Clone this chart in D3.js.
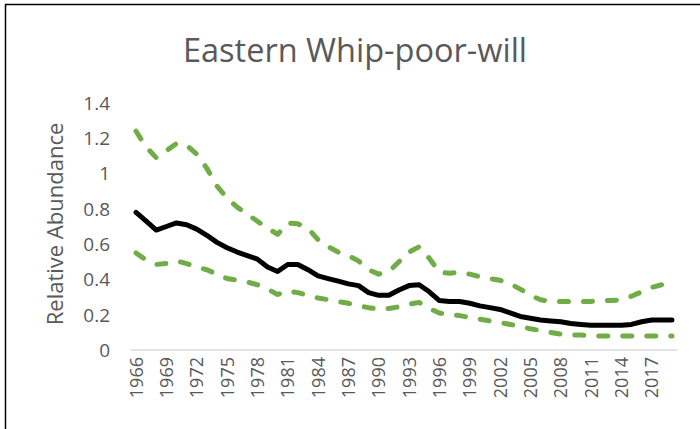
<!DOCTYPE html>
<html>
<head>
<meta charset="utf-8">
<script src="https://cdn.jsdelivr.net/npm/d3@7"></script>
<style>
  html, body { margin: 0; padding: 0; background: #fff; }
  svg { display: block; }
  text { font-family: "Open Sans", "Noto Sans", sans-serif; fill: #595959; }
</style>
</head>
<body>
<svg id="chart" width="700" height="429"></svg>
<script>
const years = d3.range(1966, 2020);
const tickYears = d3.range(1966, 2020, 3);
const yTicks = [0, 0.2, 0.4, 0.6, 0.8, 1, 1.2, 1.4];

const abundance = [0.78,0.73,0.68,0.70,0.72,0.71,0.685,0.65,0.61,0.58,
  0.555,0.535,0.515,0.47,0.445,0.485,0.485,0.455,0.42,0.405,
  0.39,0.375,0.365,0.325,0.31,0.31,0.34,0.365,0.37,0.33,
  0.28,0.275,0.275,0.265,0.25,0.24,0.23,0.21,0.19,0.18,
  0.17,0.165,0.16,0.15,0.145,0.14,0.14,0.14,0.14,0.145,
  0.16,0.17,0.17,0.17];

const upper = [1.24,1.15,1.09,1.13,1.17,1.16,1.11,1.03,0.93,0.86,
  0.81,0.77,0.73,0.69,0.655,0.72,0.715,0.69,0.625,0.585,
  0.555,0.535,0.505,0.455,0.43,0.445,0.50,0.555,0.585,0.52,
  0.44,0.435,0.44,0.43,0.415,0.405,0.395,0.375,0.345,0.31,
  0.285,0.275,0.275,0.275,0.275,0.275,0.28,0.28,0.285,0.305,
  0.33,0.355,0.37,0.375];

const lower = [0.55,0.51,0.485,0.49,0.505,0.49,0.47,0.455,0.43,0.405,
  0.395,0.385,0.37,0.345,0.315,0.335,0.325,0.31,0.295,0.285,
  0.275,0.265,0.25,0.24,0.232,0.235,0.245,0.26,0.27,0.235,
  0.21,0.2,0.195,0.185,0.175,0.165,0.155,0.145,0.135,0.12,
  0.11,0.10,0.09,0.085,0.085,0.08,0.08,0.08,0.08,0.08,
  0.08,0.08,0.08,0.08];

const titleText = "Eastern Whip-poor-will";
const yTitleText = "Relative Abundance";

const svg = d3.select("#chart");

// outer chart border
svg.append("rect")
  .attr("x", 5.5).attr("y", 4.5)
  .attr("width", 720).attr("height", 440)
  .attr("fill", "none").attr("stroke", "#000").attr("stroke-width", 1.5);

const x = d3.scaleBand().domain(years).range([131, 677]).padding(0);
const y = d3.scaleLinear().domain([0, 1.4]).range([350, 103]);
const cx = d => x(d) + x.bandwidth() / 2;

// title
svg.append("text")
  .attr("x", 355).attr("y", 62)
  .attr("text-anchor", "middle")
  .style("font-size", "32.5px")
  .text(titleText);

// y axis title
svg.append("text")
  .attr("transform", "translate(63,224) rotate(-90)")
  .attr("text-anchor", "middle")
  .style("font-size", "22px")
  .text(yTitleText);

// y tick labels
svg.append("g").selectAll("text")
  .data(yTicks).join("text")
  .attr("x", 110)
  .attr("y", d => y(d))
  .attr("dy", "0.36em")
  .attr("text-anchor", "end")
  .style("font-size", "19px")
  .text(d => d3.format("")(+d.toFixed(1)));

// x axis line
svg.append("line")
  .attr("x1", x.range()[0]).attr("x2", x.range()[1])
  .attr("y1", y(0)).attr("y2", y(0))
  .attr("stroke", "#d9d9d9").attr("stroke-width", 1.5);

// x tick labels
svg.append("g").selectAll("text")
  .data(tickYears).join("text")
  .attr("transform", d => `translate(${cx(d)},357) rotate(-90)`)
  .attr("dy", "0.36em")
  .attr("text-anchor", "end")
  .style("font-size", "18px")
  .text(d => d);

const line = d3.line().x((d, i) => cx(years[i])).y(d => y(d));

svg.append("path").datum(upper)
  .attr("d", line).attr("fill", "none")
  .attr("stroke", "#70ad47").attr("stroke-width", 5)
  .attr("stroke-dasharray", "9,15").attr("stroke-linecap", "round")
  .attr("stroke-linejoin", "round");

svg.append("path").datum(lower)
  .attr("d", line).attr("fill", "none")
  .attr("stroke", "#70ad47").attr("stroke-width", 5)
  .attr("stroke-dasharray", "9,15").attr("stroke-linecap", "round")
  .attr("stroke-linejoin", "round");

svg.append("path").datum(abundance)
  .attr("d", line).attr("fill", "none")
  .attr("stroke", "#000").attr("stroke-width", 5)
  .attr("stroke-linecap", "round").attr("stroke-linejoin", "round");
</script>
</body>
</html>
